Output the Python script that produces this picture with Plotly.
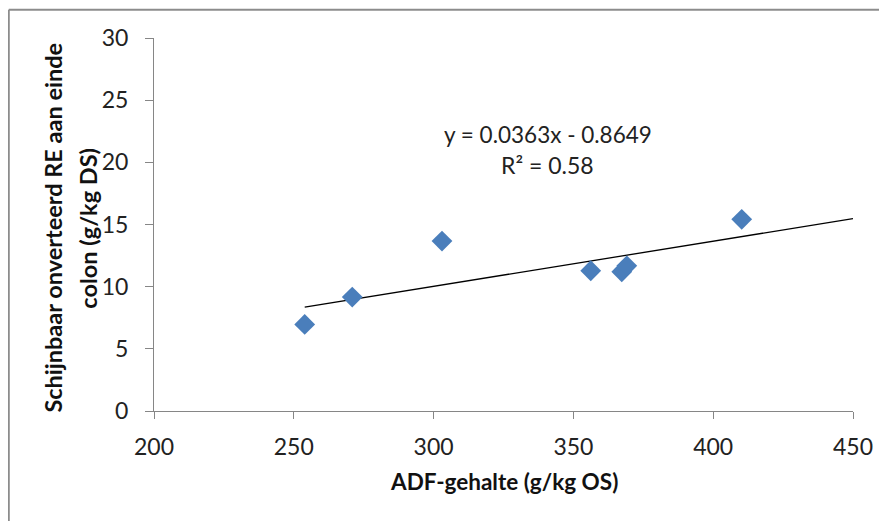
import plotly.graph_objects as go

# Data
adf = [253.9, 270.9, 303.0, 356.2, 367.3, 369.1, 410.2]
re_colon = [6.96, 9.16, 13.67, 11.28, 11.2, 11.68, 15.42]
slope = 0.0363
intercept = -0.8649
r_squared = 0.58
trend_x = [min(adf), 450]
x_ticks = [200, 250, 300, 350, 400, 450]
y_ticks = [0, 5, 10, 15, 20, 25, 30]

FONT = "Lato"
axis_col = "#868686"
OFF = 8  # page body offset compensation

# reference plot area in pixels
PL, PR, PT, PB = 154.3, 852.7, 38.3, 410.7
PW, PH = PR - PL, PB - PT


def px(x):
    return (x - PL) / PW


def py(y):
    return (PB - y) / PH


fig = go.Figure()
fig.add_trace(go.Scatter(
    x=trend_x, y=[slope * v + intercept for v in trend_x],
    mode="lines", line=dict(color="black", width=1.3), showlegend=False,
    hoverinfo="skip"))
fig.add_trace(go.Scatter(
    x=adf, y=re_colon, mode="markers",
    marker=dict(symbol="diamond", size=16, color="#4A7EBB"),
    showlegend=False))

fig.update_layout(
    width=887, height=521,
    margin=dict(l=PL - OFF, r=887 - (PR - OFF), t=PT - OFF, b=521 - (PB - OFF)),
    paper_bgcolor="white", plot_bgcolor="white",
    font=dict(family=FONT, size=23, color="#222"),
    xaxis=dict(range=[200, 450], tickvals=x_ticks, showgrid=False, zeroline=False,
               showline=True, linecolor=axis_col, linewidth=1,
               ticks="outside", ticklen=7, tickcolor=axis_col,
               ticklabelstandoff=8,
               tickfont=dict(family=FONT, size=23, color="#222")),
    yaxis=dict(range=[0, 30], tickvals=y_ticks, showgrid=False, zeroline=False,
               showline=True, linecolor=axis_col, linewidth=1,
               ticks="outside", ticklen=8, tickcolor=axis_col,
               ticklabelstandoff=12,
               tickfont=dict(family=FONT, size=23, color="#222")),
)

# axis titles
fig.add_annotation(text="<b>ADF-gehalte (g/kg OS)</b>", xref="paper", yref="paper",
                   x=px(504), y=py(481.5), xanchor="center", yanchor="middle",
                   showarrow=False, font=dict(family=FONT, size=22.5, color="#111"))
fig.add_annotation(text="<b>Schijnbaar onverteerd RE aan einde</b>", xref="paper", yref="paper",
                   x=px(53), y=py(228), xanchor="center", yanchor="middle", textangle=-90,
                   showarrow=False, font=dict(family=FONT, size=23.5, color="#111"))
fig.add_annotation(text="<b>colon (g/kg DS)</b>", xref="paper", yref="paper",
                   x=px(88), y=py(228), xanchor="center", yanchor="middle", textangle=-90,
                   showarrow=False, font=dict(family=FONT, size=23.5, color="#111"))

# equation
fig.add_annotation(text=f"y = {slope}x - {abs(intercept)}", xref="paper", yref="paper",
                   x=px(547.5), y=py(135), xanchor="center", yanchor="middle",
                   showarrow=False, font=dict(family=FONT, size=22.5, color="#222"))
fig.add_annotation(text=f"R² = {r_squared}", xref="paper", yref="paper",
                   x=px(547.5), y=py(165), xanchor="center", yanchor="middle",
                   showarrow=False, font=dict(family=FONT, size=23, color="#222"))

# outer chart border: only top and left edges are visible in the reference
border = dict(color="#8c8c8c", width=2)
fig.add_shape(type="line", xref="paper", yref="paper",
              x0=px(9.2), x1=1.3, y0=py(10), y1=py(10), line=border, layer="below")
fig.add_shape(type="line", xref="paper", yref="paper",
              x0=px(9.2), x1=px(9.2), y0=py(10), y1=-0.6, line=border, layer="below")

fig.write_html("out.html")
